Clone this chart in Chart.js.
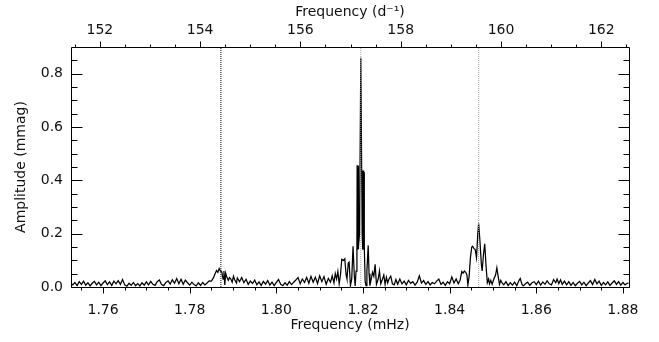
<!DOCTYPE html>
<html>
<head>
<meta charset="utf-8">
<script src="https://cdn.jsdelivr.net/npm/chart.js@4.4.1/dist/chart.umd.min.js"></script>
<style>
  html, body { margin: 0; padding: 0; background: #fff; }
</style>
</head>
<body>
<canvas id="spectrum" width="659" height="342"></canvas>
<script>
// amplitude spectrum (frequency in mHz, amplitude in mmag)
const freqMHz = [
  1.7527,
  1.7530,1.7535,1.7540,1.7545,1.7550,1.7555,1.7560,1.7565,1.7570,1.7575,
  1.7580,1.7585,1.7590,1.7595,1.7600,1.7605,1.7610,1.7615,1.7620,1.7625,
  1.7630,1.7635,1.7640,1.7645,1.7650,1.7655,1.7660,1.7665,1.7670,1.7675,
  1.7680,1.7685,1.7690,1.7695,1.7700,1.7705,1.7710,1.7715,1.7720,1.7725,
  1.7730,1.7735,1.7740,1.7745,1.7750,1.7755,1.7760,1.7765,1.7770,1.7775,
  1.7780,1.7785,1.7790,1.7795,1.7800,1.7805,1.7810,1.7815,1.7820,1.7825,
  1.7830,1.7835,1.7840,1.7845,1.7850,
  // first marked peak
  1.7855,1.7858,1.7862,1.7865,1.7868,1.7871,1.7874,1.7877,1.7879,1.7881,
  1.7883,1.7885,1.7889,1.7892,1.7895,1.7898,1.7901,1.7904,1.7908,
  1.7910,1.7915,1.7920,1.7925,1.7930,1.7935,1.7940,1.7945,1.7950,1.7955,
  1.7960,1.7965,1.7970,1.7975,1.7980,1.7985,1.7990,1.7995,1.8000,1.8005,
  1.8010,1.8015,1.8020,1.8025,1.8030,1.8035,1.8040,1.8045,1.8050,1.8055,
  1.8060,1.8065,1.8070,1.8075,1.8080,1.8085,1.8090,1.8095,1.8100,1.8105,
  1.8110,1.8115,1.8120,
  // main peak
  1.8125,1.8129,1.8133,1.8136,1.8139,1.8142,1.8145,1.8148,1.8151,1.8155,
  1.8158,1.8161,1.8163,1.8166,1.8168,1.8171,1.8174,1.8177,1.8180,1.8182,
  1.8184,1.8186,1.81865,1.8187,1.81875,1.8188,1.81885,1.8189,1.81895,1.8190,
  1.8192,1.8195,1.8198,1.8199,1.81995,1.8200,1.82005,1.8201,1.82015,1.8202,
  1.82025,1.8203,1.8205,1.8207,1.8209,1.8212,1.8214,1.8216,1.8219,1.8222,
  1.8225,1.8228,1.8231,1.8235,1.8238,1.8241,1.8244,1.8248,1.8251,1.8254,
  1.8257,1.8260,1.8264,
  1.8268,1.8272,1.8276,1.8280,1.8285,1.8290,1.8295,1.8300,1.8305,1.8310,
  1.8315,1.8320,1.8325,1.8330,1.8335,1.8340,1.8345,1.8350,1.8355,1.8360,
  1.8365,1.8370,1.8375,1.8380,1.8385,1.8390,1.8395,1.8400,1.8405,1.8410,
  1.8415,1.8420,
  // third marked peak
  1.8424,1.8428,1.8431,1.8434,1.8437,1.8440,1.8442,1.8445,1.8448,1.8451,
  1.8453,1.8456,1.8459,1.8462,1.8465,1.8467,1.8470,1.8473,1.8475,1.8478,
  1.8481,1.8484,1.8487,1.8490,1.8492,1.8495,1.8498,1.8502,1.8506,1.8509,
  1.8512,1.8515,1.8518,1.8521,
  1.8525,1.8530,1.8535,1.8540,1.8545,1.8550,1.8555,1.8560,1.8563,1.8567,
  1.8570,1.8575,1.8580,1.8585,1.8590,1.8595,1.8600,1.8605,1.8610,1.8615,
  1.8620,1.8625,1.8630,1.8635,1.8640,1.8645,1.8648,1.8652,1.8656,1.8660,
  1.8665,1.8670,1.8675,1.8680,1.8685,1.8690,1.8695,1.8700,1.8705,1.8710,
  1.8715,1.8720,1.8725,1.8730,1.8735,1.8740,1.8745,1.8750,1.8755,1.8760,
  1.8765,1.8770,1.8775,1.8780,1.8785,1.8790,1.8795,1.8800,1.8805,1.8810,
  1.8813
];
const amplitude = [
  0.012,
  0.008,0.017,0.005,0.020,0.010,0.022,0.007,0.016,0.004,0.014,
  0.021,0.008,0.018,0.005,0.015,0.023,0.009,0.019,0.006,0.022,
  0.012,0.024,0.010,0.028,0.008,0.003,0.014,0.006,0.017,0.005,
  0.013,0.004,0.016,0.007,0.019,0.008,0.021,0.010,0.006,0.020,
  0.026,0.009,0.005,0.017,0.023,0.011,0.027,0.014,0.032,0.012,
  0.029,0.010,0.026,0.016,0.007,0.018,0.009,0.004,0.016,0.006,
  0.017,0.008,0.015,0.023,0.022,
  0.035,0.048,0.062,0.055,0.069,0.060,0.057,0.030,0.060,0.008,
  0.052,0.040,0.025,0.035,0.030,0.018,0.040,0.026,0.015,
  0.034,0.020,0.036,0.016,0.029,0.010,0.022,0.013,0.026,0.008,
  0.019,0.006,0.021,0.011,0.024,0.007,0.018,0.005,0.017,0.028,
  0.010,0.005,0.016,0.007,0.020,0.009,0.018,0.026,0.036,0.012,
  0.030,0.017,0.036,0.014,0.040,0.018,0.037,0.013,0.042,0.020,
  0.039,0.010,0.032,
  0.018,0.042,0.015,0.050,0.030,0.058,0.012,0.045,0.104,0.100,
  0.106,0.045,0.030,0.090,0.093,0.005,0.030,0.153,0.040,0.004,
  0.060,0.180,0.457,0.145,0.450,0.140,0.455,0.142,0.452,0.150,
  0.200,0.860,0.200,0.150,0.437,0.140,0.435,0.142,0.437,0.145,
  0.430,0.150,0.020,0.005,0.060,0.156,0.050,0.005,0.030,0.055,
  0.040,0.085,0.010,0.030,0.060,0.012,0.025,0.045,0.010,0.036,
  0.015,0.030,0.041,
  0.012,0.008,0.028,0.010,0.030,0.012,0.022,0.008,0.025,0.014,
  0.020,0.007,0.018,0.042,0.015,0.024,0.010,0.020,0.008,0.017,
  0.012,0.022,0.030,0.010,0.018,0.006,0.020,0.012,0.038,0.015,
  0.030,0.012,
  0.025,0.058,0.052,0.060,0.055,0.045,0.007,0.040,0.110,0.150,
  0.153,0.145,0.140,0.110,0.200,0.238,0.170,0.090,0.060,0.120,
  0.162,0.080,0.016,0.030,0.012,0.025,0.010,0.030,0.045,0.072,
  0.040,0.010,0.025,0.015,
  0.008,0.020,0.005,0.016,0.007,0.018,0.005,0.024,0.032,0.010,
  0.004,0.012,0.018,0.006,0.016,0.020,0.009,0.022,0.007,0.019,
  0.010,0.023,0.012,0.008,0.028,0.016,0.030,0.013,0.027,0.010,
  0.022,0.008,0.020,0.006,0.017,0.005,0.014,0.021,0.008,0.018,
  0.005,0.015,0.024,0.009,0.028,0.012,0.022,0.006,0.017,0.008,
  0.019,0.006,0.015,0.023,0.010,0.020,0.007,0.017,0.008,0.014,
  0.015
];

// dotted vertical markers (mHz)
const markerFreqs = [1.7872, 1.8195, 1.8467];

const xRange = [1.7526, 1.8814];
const yRange = [0, 0.9];
const mHzToPerDay = 86.4;

const bottomTicks = [1.76, 1.78, 1.80, 1.82, 1.84, 1.86, 1.88];
const bottomMinor = [1.755, 1.765, 1.770, 1.775, 1.785, 1.790, 1.795, 1.805, 1.810, 1.815,
                     1.825, 1.830, 1.835, 1.845, 1.850, 1.855, 1.865, 1.870, 1.875];
const topTicks = [152, 154, 156, 158, 160, 162];
const topMinor = [151.5, 152.5, 153, 153.5, 154.5, 155, 155.5, 156.5, 157, 157.5,
                  158.5, 159, 159.5, 160.5, 161, 161.5, 162.5];
const yTicks = [0, 0.2, 0.4, 0.6, 0.8];
const yMinor = [0.05, 0.1, 0.15, 0.25, 0.3, 0.35, 0.45, 0.5, 0.55, 0.65, 0.7, 0.75, 0.85];

const textColor = '#111';
const textFont = { family: 'DejaVu Sans', size: 14 };

// box + IDL style ticks: x ticks outward, y ticks inward
const frameAndTicks = {
    id: 'frameAndTicks',
    afterDatasetsDraw(chart) {
        const { ctx, chartArea: a, scales } = chart;
        const px = v => Math.round(v) + 0.5;
        const left = px(a.left), right = px(a.right), top = px(a.top), bottom = px(a.bottom);

        ctx.save();
        ctx.strokeStyle = '#000';
        ctx.lineWidth = 1;
        ctx.beginPath();
        ctx.rect(left, top, right - left, bottom - top);

        const xTick = (scale, v, y, len) => {
            const x = px(scale.getPixelForValue(v));
            ctx.moveTo(x, y);
            ctx.lineTo(x, y + len);
        };
        const yTick = (v, len) => {
            const y = px(scales.y.getPixelForValue(v));
            ctx.moveTo(left, y);
            ctx.lineTo(left + len, y);
            ctx.moveTo(right, y);
            ctx.lineTo(right - len, y);
        };

        bottomMinor.forEach(v => xTick(scales.x, v, bottom, 3));
        bottomTicks.forEach(v => xTick(scales.x, v, bottom, 6));
        topMinor.forEach(v => xTick(scales.x2, v, top, -3));
        topTicks.forEach(v => xTick(scales.x2, v, top, -6));
        yMinor.forEach(v => yTick(v, 6));
        yTicks.forEach(v => yTick(v, 11));

        ctx.stroke();
        ctx.restore();
    }
};

const spectrumPoints = freqMHz.map((f, i) => ({ x: f, y: amplitude[i] }));

const markerSets = markerFreqs.map((f, i) => ({
    label: 'marker ' + (i + 1),
    data: [{ x: f, y: yRange[0] }, { x: f, y: yRange[1] }],
    borderColor: i === 0 ? '#000' : '#9a9a9a',
    borderWidth: 1,
    borderDash: [1, 1],
    pointRadius: 0,
    order: 1
}));

const hiddenGrid = { display: false, drawTicks: false };

new Chart(document.getElementById('spectrum'), {
    type: 'line',
    data: {
        datasets: [{
            label: 'Amplitude',
            data: spectrumPoints,
            borderColor: '#000',
            borderWidth: 1.25,
            pointRadius: 0,
            tension: 0,
            order: 2
        }, ...markerSets]
    },
    options: {
        responsive: false,
        animation: false,
        events: [],
        layout: { padding: 0 },
        plugins: {
            legend: { display: false },
            tooltip: { enabled: false }
        },
        scales: {
            x: {
                type: 'linear',
                position: 'bottom',
                min: xRange[0],
                max: xRange[1],
                grid: hiddenGrid,
                border: { display: false },
                afterBuildTicks: s => { s.ticks = bottomTicks.map(v => ({ value: v })); },
                afterFit: s => { s.height = 55; },
                ticks: {
                    color: textColor,
                    font: textFont,
                    padding: 15,
                    maxRotation: 0,
                    autoSkip: false,
                    callback: v => v.toFixed(2)
                },
                title: {
                    display: true,
                    text: 'Frequency (mHz)',
                    color: textColor,
                    font: textFont,
                    padding: { top: 0, bottom: 8 }
                }
            },
            x2: {
                type: 'linear',
                position: 'top',
                min: xRange[0] * mHzToPerDay,
                max: xRange[1] * mHzToPerDay,
                grid: hiddenGrid,
                border: { display: false },
                afterBuildTicks: s => { s.ticks = topTicks.map(v => ({ value: v })); },
                afterFit: s => { s.height = 47; },
                ticks: {
                    color: textColor,
                    font: textFont,
                    padding: 8,
                    maxRotation: 0,
                    autoSkip: false,
                    callback: v => v.toFixed(0)
                },
                title: {
                    display: true,
                    text: 'Frequency (d\u207B\u00B9)',
                    color: textColor,
                    font: textFont,
                    padding: { top: 4, bottom: 0 }
                }
            },
            y: {
                position: 'left',
                min: yRange[0],
                max: yRange[1],
                grid: hiddenGrid,
                border: { display: false },
                afterBuildTicks: s => { s.ticks = yTicks.map(v => ({ value: v })); },
                afterFit: s => { s.width = 71; },
                ticks: {
                    color: textColor,
                    font: textFont,
                    padding: 8,
                    callback: v => v.toFixed(1)
                },
                title: {
                    display: true,
                    text: 'Amplitude (mmag)',
                    color: textColor,
                    font: textFont,
                    padding: { top: 13, bottom: 0 }
                }
            },
            y2: {
                position: 'right',
                min: yRange[0],
                max: yRange[1],
                grid: hiddenGrid,
                border: { display: false },
                ticks: { display: false },
                afterFit: s => { s.width = 30; }
            }
        }
    },
    plugins: [frameAndTicks]
});
</script>
</body>
</html>
